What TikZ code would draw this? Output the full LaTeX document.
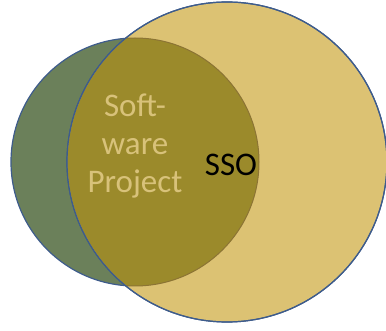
\documentclass[tikz,border=0pt]{standalone}
\usepackage{fontspec}
\setmainfont{Carlito}
\usepackage{tikz}
\definecolor{projgreen}{HTML}{6B805A}
\definecolor{ssoyellow}{HTML}{DCC273}
\definecolor{mixolive}{HTML}{9B8A2B}
\definecolor{rimblue}{HTML}{3E5C8C}
\definecolor{rimbrown}{HTML}{8C7434}
\definecolor{labeltan}{HTML}{D8C27A}
\tikzset{
    set/.style={circle, draw=rimblue, line width=1.2pt, inner sep=0pt}
}
\tikzset{
    setlabel/.style={font=\fontsize{33}{38}\selectfont, align=center}
}

\begin{document}
\begin{tikzpicture}[x=1pt, y=-1pt]
  \useasboundingbox (0,0) rectangle (386,331);
  \node (proj) [set, fill=projgreen, minimum size=248pt] at (135,162) {};
  \node (sso) [set, fill=ssoyellow, minimum size=320pt] at (227,162) {};
  \begin{scope}
    \clip (sso.center) circle (159.4);
    \fill [mixolive] (proj.center) circle (124);
    \draw [rimbrown, line width=1pt] (proj.center) circle (124);
  \end{scope}
  \draw [rimblue, line width=1.2pt] (sso.center) circle (160);

  \node (projlabel) [setlabel, text=labeltan] at (135,146) {Soft-\\ware\\Project};
  \node (ssolabel) [setlabel] at (231,165) {SSO};
\end{tikzpicture}
\end{document}
